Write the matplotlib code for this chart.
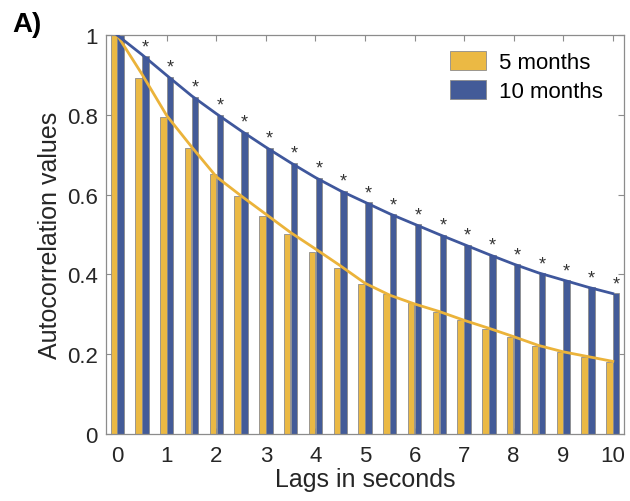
import numpy as np
import matplotlib
matplotlib.use('Agg')
import matplotlib.pyplot as plt

plt.rcParams['font.family'] = ['Liberation Sans', 'DejaVu Sans']

# lags (seconds) and autocorrelation values
lags = [0, 0.5, 1, 1.5, 2, 2.5, 3, 3.5, 4, 4.5, 5,
        5.5, 6, 6.5, 7, 7.5, 8, 8.5, 9, 9.5, 10]
ac_5m = [1.0, 0.893, 0.796, 0.717, 0.652, 0.596, 0.546, 0.501, 0.457, 0.415, 0.376,
         0.350, 0.328, 0.307, 0.286, 0.263, 0.242, 0.221, 0.206, 0.192, 0.181]
ac_10m = [1.0, 0.947, 0.896, 0.845, 0.801, 0.758, 0.718, 0.679, 0.642, 0.609, 0.581,
          0.551, 0.526, 0.500, 0.474, 0.449, 0.425, 0.403, 0.385, 0.368, 0.353]
# fitted curves drawn over the bars
fit_5m = [1.0, 0.902, 0.798, 0.72, 0.645, 0.597, 0.551, 0.505, 0.464, 0.422, 0.378,
          0.348, 0.326, 0.307, 0.285, 0.265, 0.244, 0.222, 0.206, 0.194, 0.182]
fit_10m = [1.0, 0.951, 0.899, 0.848, 0.803, 0.760, 0.719, 0.680, 0.643, 0.610, 0.581,
           0.552, 0.526, 0.500, 0.475, 0.450, 0.426, 0.404, 0.386, 0.368, 0.352]
labels = ['5 months', '10 months']

orange = '#EBB944'
blue = '#435B98'
grey = '#8c8c8c'
txt = '#262626'

fig = plt.figure(figsize=(6.3, 5.02), dpi=100)
ax = fig.add_axes([0.168, 0.1335, 0.822, 0.7945])

x = np.array(lags)
w = 0.13
ax.bar(x - 0.07, ac_5m, width=w, color=orange, edgecolor=grey, linewidth=0.6, label=labels[0], zorder=2)
ax.bar(x + 0.07, ac_10m, width=w, color=blue, edgecolor=grey, linewidth=0.6, label=labels[1], zorder=2)
ax.plot(x, fit_5m, color='#EBB33A', lw=2, zorder=3)
ax.plot(x, fit_10m, color='#3F579C', lw=2, zorder=3)

# significance stars above the 10-month bars
for xi, yi in zip(x[1:], ac_10m[1:]):
    ax.text(xi + 0.07, yi + 0.003, '*', ha='center', va='bottom', fontsize=13, color='#333333', zorder=4)

ax.set_xlim(-0.23, 10.22)
ax.set_ylim(0, 1)
ax.set_xticks(range(0, 11))
ax.set_yticks([0, 0.2, 0.4, 0.6, 0.8, 1])
ax.set_yticklabels(['0', '0.2', '0.4', '0.6', '0.8', '1'])
ax.tick_params(direction='in', top=True, right=True, labelsize=16, colors=txt,
               color=grey, length=4)
ax.tick_params(axis='x', pad=8)
ax.tick_params(axis='y', pad=6)
for s in ax.spines.values():
    s.set_color(grey)
    s.set_linewidth(0.9)

ax.set_xlabel('Lags in seconds', fontsize=18, color=txt, labelpad=1)
ax.set_ylabel('Autocorrelation values', fontsize=18, color=txt, labelpad=3)

leg = ax.legend(loc='upper right', bbox_to_anchor=(0.976, 0.983), fontsize=16, frameon=False,
                handlelength=1.63, handleheight=0.95, handletextpad=0.55,
                borderaxespad=0.0, labelspacing=0.3)
for h in leg.legend_handles:
    h.set_edgecolor(grey)

fig.text(0.02, 0.936, 'A)', fontsize=20, fontweight='bold', color='black')

fig.savefig('out.png', dpi=100)
